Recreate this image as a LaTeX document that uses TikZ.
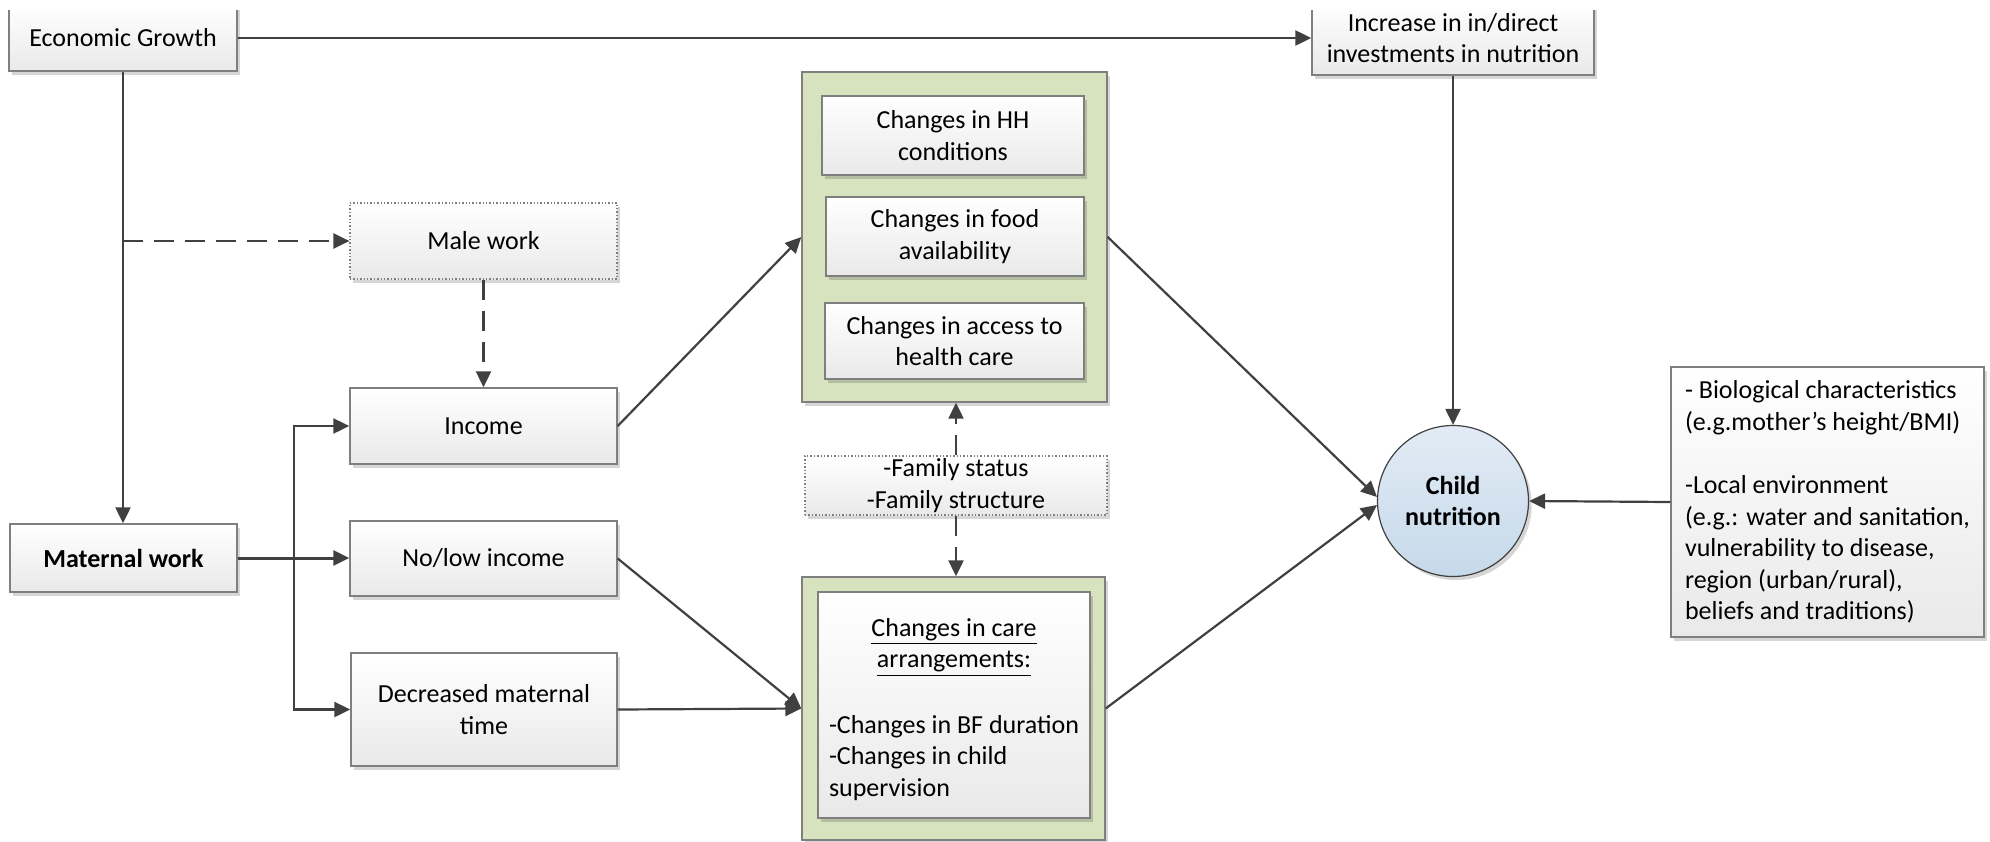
\documentclass[tikz,border=0pt]{standalone}
\usepackage{fontspec}
\setmainfont{Carlito}
\usetikzlibrary{arrows.meta,shadows}

\definecolor{linec}{HTML}{404040}
\definecolor{bord}{HTML}{7F7F7F}
\definecolor{boxbot}{HTML}{E9E9E9}
\definecolor{greenbg}{HTML}{D7E2BE}
\definecolor{circtop}{HTML}{E2EBF5}
\definecolor{circbot}{HTML}{C6D9EA}

\tikzset{
  txt/.style={font=\fontsize{13pt}{15.8pt}\selectfont, align=center, inner sep=0pt},
  boldtxt/.style={font=\fontsize{13pt}{15.8pt}\selectfont\bfseries},
  softshadow/.style={drop shadow={shadow xshift=1.6pt, shadow yshift=-1.8pt, fill=black, opacity=0.16}},
  box/.style={txt, rectangle, draw=bord, line width=0.7pt, top color=white, bottom color=boxbot, softshadow},
  dotbox/.style={box, densely dotted, line width=0.6pt},
  greenbox/.style={rectangle, draw=bord, line width=0.7pt, fill=greenbg, softshadow},
  conn/.style={draw=linec, line width=1.1pt, -{Triangle[length=8pt,width=7.5pt]}},
  dconn/.style={conn, dash pattern=on 10pt off 5.5pt},
}

\begin{document}
\begin{tikzpicture}[x=0.5pt,y=-0.5pt]
\useasboundingbox (0,0) rectangle (1990,841);

% boxes along the upper edge, cut off at the top
\begin{scope}
  \clip (0,10) rectangle (1990,841);
  \node[box, minimum width=114pt, minimum height=33pt] (eg) at (123,38) {Economic Growth};
  \node[box, minimum width=141pt, minimum height=37pt] (inv) at (1453,38) {Increase in in/direct\\investments in nutrition};
\end{scope}

% work and income column
\node[dotbox, minimum width=133.5pt, minimum height=38pt] (male) at (483.5,241) {Male work};
\node[box, minimum width=133.5pt, minimum height=38pt] (income) at (483.5,426) {Income};
\node[box, minimum width=133.5pt, minimum height=37.5pt] (nolow) at (483.5,558.5) {No/low income};
\node[box, minimum width=133pt, minimum height=56.5pt] (dec) at (484,709.5) {Decreased maternal\\time};
\node[box, boldtxt, minimum width=113.5pt, minimum height=34pt] (mat) at (123.5,558) {Maternal work};

% household pathway group
\node[greenbox, minimum width=152.5pt, minimum height=165pt] (gtop) at (954.5,237) {};
\node[box, minimum width=131pt, minimum height=39.5pt] (hh) at (953,135.5) {Changes in HH\\conditions};
\node[box, minimum width=129pt, minimum height=39.5pt] (food) at (955,236.5) {Changes in food\\availability};
\node[box, minimum width=129.5pt, minimum height=38pt] (acc) at (954.5,341) {Changes in access to\\health care};

% family characteristics
\node[dotbox, minimum width=151pt, minimum height=29.5pt] (fam) at (956,485.5) {-Family status\\-Family structure};

% care pathway group
\node[greenbox, minimum width=151.5pt, minimum height=131.5pt] (gbot) at (953.5,708.5) {};
\node[box, minimum width=136pt, minimum height=113pt] (care) at (954,705) {};
\node[txt] (caretext) at (954,712)
  {\underline{Changes in care}\\\underline{arrangements:}\\[16.5pt]%
   \begin{tabular}{@{}l@{}}-Changes in BF duration\\-Changes in child\\supervision\end{tabular}};

% outcome
\node[circle, draw=linec, line width=0.6pt, top color=circtop, bottom color=circbot, softshadow,
      boldtxt, align=center, inner sep=0pt, minimum size=75.5pt] (child) at (1453,501) {Child\\nutrition};

% contextual factors
\node[box, align=left, minimum width=156.5pt, minimum height=135pt] (right) at (1827.5,502)
  {- Biological characteristics\\(e.g.mother’s height/BMI)\\[15.8pt]-Local environment\\(e.g.: water and sanitation,\\vulnerability to disease,\\region (urban/rural),\\beliefs and traditions)};

% connectors
\draw[conn] (eg.east) -- (inv.west);
\draw[conn] (inv.south) -- (child.north);
\draw[conn] (eg.south) -- (eg.south |- mat.north);
\draw[dconn] (eg.south |- male.west) -- (male.west);
\draw[dconn] (male.south) -- (male.south |- income.north);

\coordinate (j) at (294,558);
\draw[conn, line width=1.5pt] (mat.east) -- (mat.east -| nolow.west);
\draw[conn] (j) |- (income.west);
\draw[conn] (j) |- (dec.west);

\draw[conn] (income.east) -- (gtop.west);
\draw[conn] (nolow.east) -- (gbot.west);
\draw[conn] (dec.east) -- (gbot.west);
\draw[conn] (gtop.east) -- (child.177);
\draw[conn] (gbot.east) -- (child.183);
\draw[conn] (right.west) -- (child.east);

\draw[dconn] (fam.north) -- (fam.north |- gtop.south);
\draw[dconn] (fam.south) -- (fam.south |- gbot.north);
\end{tikzpicture}
\end{document}
